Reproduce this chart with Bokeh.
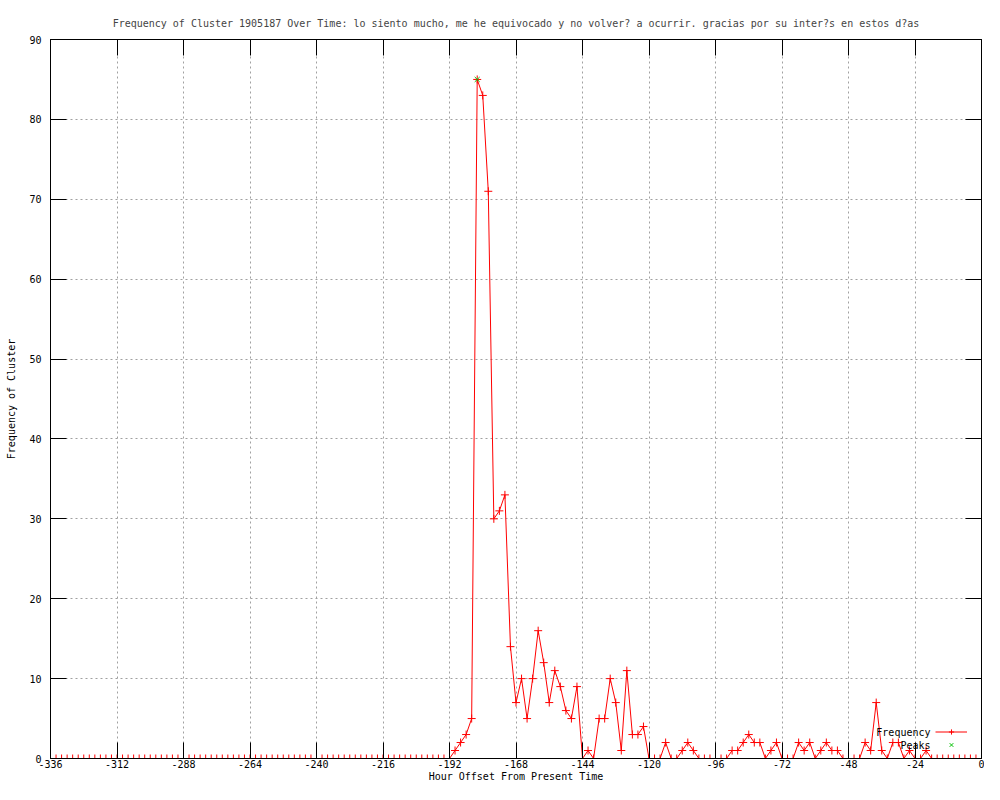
from bokeh.plotting import figure
from bokeh.models import (ColumnDataSource, FixedTicker, LinearAxis, Range1d,
                          Legend, LegendItem, Label)
from bokeh.embed import file_html
from bokeh.resources import INLINE

# ---------------- data ----------------
TITLE = ("Frequency of Cluster 1905187 Over Time: lo siento mucho, me he equivocado "
         "y no volver? a ocurrir. gracias por su inter?s en estos d?as")
X_LABEL = "Hour Offset From Present Time"
Y_LABEL = "Frequency of Cluster"

hours = list(range(-336, 1, 2))

frequency_early = [0, 0, 0, 0, 0, 0, 0, 0, 0, 0, 0, 0,
                   0, 0, 0, 0, 0, 0, 0, 0, 0, 0, 0, 0,
                   0, 0, 0, 0, 0, 0, 0, 0, 0, 0, 0, 0,
                   0, 0, 0, 0, 0, 0, 0, 0, 0, 0, 0, 0,
                   0, 0, 0, 0, 0, 0, 0, 0, 0, 0, 0, 0,
                   0, 0, 0, 0, 0, 0, 0, 0, 0, 0, 0, 0]          # -336 .. -194
frequency_late = [0, 1, 2, 3, 5, 85, 83, 71, 30, 31, 33, 14,       # -192 .. -170
                  7, 10, 5, 10, 16, 12, 7, 11, 9, 6, 5, 9,         # -168 .. -146
                  0, 1, 0, 5, 5, 10, 7, 1, 11, 3, 3, 4,            # -144 .. -122
                  0, 0, 0, 2, 0, 0, 1, 2, 1, 0, 0, 0,              # -120 .. -98
                  0, 0, 0, 1, 1, 2, 3, 2, 2, 0, 1, 2,              # -96 .. -74
                  0, 0, 0, 2, 1, 2, 0, 1, 2, 1, 1, 0,              # -72 .. -50
                  0, 0, 0, 2, 1, 7, 1, 0, 2, 2, 0, 1,              # -48 .. -26
                  0, 0, 1, 0, 0, 0, 0, 0, 0, 0, 0, 0, 0]           # -24 .. 0
frequency = frequency_early + frequency_late

peak_hours = [-182]
peak_values = [85]

x_ticks = [-336, -312, -288, -264, -240, -216, -192, -168, -144, -120, -96, -72, -48, -24, 0]
x_tick_labels = ["-336", "-312", "-288", "-264", "-240", "-216", "-192", "-168",
                 "-144", "-120", "-96", "-72", "-48", "-24", "0"]
y_ticks = [0, 10, 20, 30, 40, 50, 60, 70, 80, 90]
y_tick_labels = ["0", "10", "20", "30", "40", "50", "60", "70", "80", "90"]

# ---------------- styling ----------------
FONT = "DejaVu Sans Mono"
FS = "10px"
RED = "#ff0000"
GREEN = "#00c000"
GRID = "#a0a0a0"
TICK_LEN = 16

p = figure(width=984, height=784, output_backend="svg", toolbar_location=None,
           x_range=Range1d(-336, 0), y_range=Range1d(0, 90),
           min_border_left=50, min_border_right=3, min_border_top=39,
           min_border_bottom=25, background_fill_color="white",
           border_fill_color="white")

p.title.text = TITLE
p.title.text_font = FONT
p.title.text_font_size = FS
p.title.text_font_style = "normal"
p.title.align = "center"
p.title.standoff = 22

p.outline_line_color = "black"
p.outline_line_width = 1

xt = FixedTicker(ticks=x_ticks)
yt = FixedTicker(ticks=y_ticks)


def style_axis(ax, ticker, labels, ticks, show_labels=True):
    ax.ticker = ticker
    ax.axis_line_color = "black"
    ax.major_tick_line_color = "black"
    ax.major_tick_in = TICK_LEN
    ax.major_tick_out = 0
    ax.minor_tick_line_color = None
    ax.major_label_text_font = FONT
    ax.major_label_text_color = "black"
    if show_labels:
        ax.major_label_text_font_size = FS
        ax.major_label_overrides = {t: l for t, l in zip(ticks, labels)}
    else:
        ax.major_label_text_font_size = "0px"
        ax.major_label_overrides = {t: "" for t in ticks}
        ax.major_label_standoff = 0
    ax.axis_label_text_font = FONT
    ax.axis_label_text_font_size = FS
    ax.axis_label_text_font_style = "normal"
    ax.axis_label_text_color = "black"


xa = p.xaxis[0]
style_axis(xa, xt, x_tick_labels, x_ticks)
xa.axis_label = X_LABEL
xa.major_label_standoff = 1
xa.axis_label_standoff = 0

ya = p.yaxis[0]
style_axis(ya, yt, y_tick_labels, y_ticks)
ya.axis_label = Y_LABEL
ya.major_label_standoff = 9
ya.axis_label_standoff = 9

top_axis = LinearAxis()
style_axis(top_axis, FixedTicker(ticks=x_ticks), x_tick_labels, x_ticks, show_labels=False)
p.add_layout(top_axis, "above")

right_axis = LinearAxis()
style_axis(right_axis, FixedTicker(ticks=y_ticks), y_tick_labels, y_ticks, show_labels=False)
p.add_layout(right_axis, "right")

p.xgrid.ticker = xt
p.ygrid.ticker = yt
for g in (p.xgrid[0], p.ygrid[0]):
    g.grid_line_color = GRID
    g.grid_line_dash = "2 3"
    g.grid_line_width = 1

src = ColumnDataSource(dict(hour=hours, freq=frequency))
peak_src = ColumnDataSource(dict(hour=peak_hours, freq=peak_values))

line_r = p.line("hour", "freq", source=src, line_color=RED, line_width=1)
cross_r = p.scatter("hour", "freq", source=src, marker="cross", size=8,
                    line_color=RED, line_width=1)
peak_r = p.scatter("hour", "freq", source=peak_src, marker="x", size=7,
                   line_color=GREEN, line_width=1)

legend = Legend(items=[LegendItem(label=" ", renderers=[line_r, cross_r]),
                       LegendItem(label=" ", renderers=[peak_r])],
                location=(885, 7), orientation="vertical",
                glyph_width=32, glyph_height=13, label_height=13, label_width=0,
                label_standoff=0, spacing=0, padding=0, margin=0,
                border_line_color=None, background_fill_alpha=0,
                label_text_font_size="1px")
p.add_layout(legend, "center")

for txt, yy in (("Frequency", 26), ("Peaks", 13)):
    p.add_layout(Label(x=880, y=yy, x_units="screen", y_units="screen", text=txt,
                       text_align="right", text_baseline="middle",
                       text_font=FONT, text_font_size=FS, text_color="black"))

open("out.html", "w").write(file_html(p, INLINE))
